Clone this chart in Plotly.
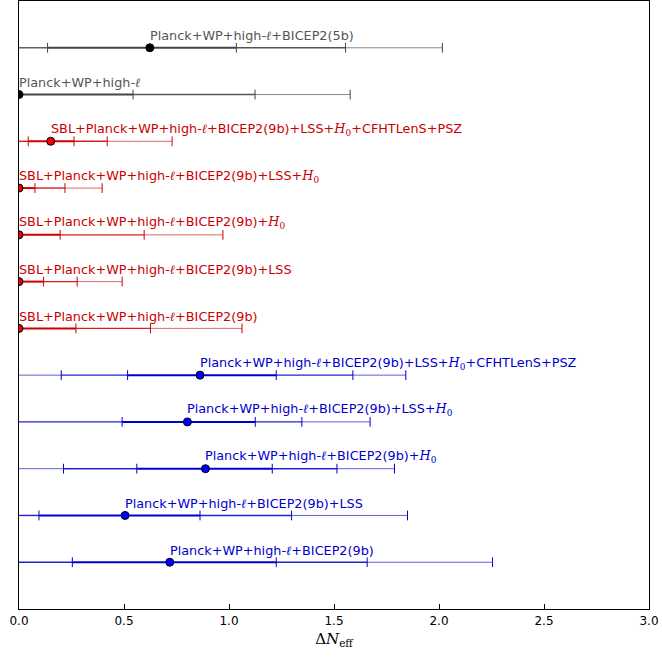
import plotly.graph_objects as go

H0 = '<span style="font-family:\'DejaVu Serif\'"><i>H</i><sub>0</sub></span>'
ELL = '<span style="font-family:\'DejaVu Serif\'"><i>ℓ</i></span>'
labels = [
    "Planck+WP+high-" + ELL + "+BICEP2(9b)",
    "Planck+WP+high-" + ELL + "+BICEP2(9b)+LSS",
    "Planck+WP+high-" + ELL + "+BICEP2(9b)+" + H0,
    "Planck+WP+high-" + ELL + "+BICEP2(9b)+LSS+" + H0,
    "Planck+WP+high-" + ELL + "+BICEP2(9b)+LSS+" + H0 + "+CFHTLenS+PSZ",
    "SBL+Planck+WP+high-" + ELL + "+BICEP2(9b)",
    "SBL+Planck+WP+high-" + ELL + "+BICEP2(9b)+LSS",
    "SBL+Planck+WP+high-" + ELL + "+BICEP2(9b)+" + H0,
    "SBL+Planck+WP+high-" + ELL + "+BICEP2(9b)+LSS+" + H0,
    "SBL+Planck+WP+high-" + ELL + "+BICEP2(9b)+LSS+" + H0 + "+CFHTLenS+PSZ",
    "Planck+WP+high-" + ELL,
    "Planck+WP+high-" + ELL + "+BICEP2(5b)",
]
groups = ["blue"] * 5 + ["red"] * 5 + ["gray"] * 2

best = [0.718, 0.505, 0.888, 0.802, 0.862, 0.0, 0.0, 0.0, 0.0, 0.151, 0.0, 0.623]
lo1 = [0.254, 0.095, 0.561, 0.491, 0.517, 0.0, 0.0, 0.0, 0.0, 0.044, 0.0, 0.136]
hi1 = [1.225, 0.862, 1.206, 1.125, 1.225, 0.271, 0.117, 0.196, 0.076, 0.262, 0.543, 1.035]
lo2 = [0.0, 0.0, 0.212, 0.0, 0.201, 0.0, 0.0, 0.0, 0.0, 0.0, 0.0, 0.0]
hi2 = [1.658, 1.298, 1.514, 1.347, 1.590, 0.626, 0.277, 0.596, 0.219, 0.420, 1.124, 1.555]
lo3 = [0.0] * 12
hi3 = [2.255, 1.850, 1.788, 1.672, 1.842, 1.062, 0.491, 0.971, 0.396, 0.729, 1.577, 2.016]

styles = {
    "blue": dict(c1="#0000cc", c2="#2222d0", c3="#6060dc", mk="#0000ff", txt="#0000cc"),
    "red": dict(c1="#cc0000", c2="#d42020", c3="#e06a6a", mk="#ee0000", txt="#cc0000"),
    "gray": dict(c1="#444444", c2="#555555", c3="#8a8a8a", mk="#000000", txt="#555555"),
}

fig = go.Figure()
ann = []
for i in range(12):
    y = i + 1
    s = styles[groups[i]]
    segs = [
        (lo3[i], lo2[i], s["c3"], 1.0),
        (lo2[i], lo1[i], s["c2"], 1.4),
        (lo1[i], hi1[i], s["c1"], 2.0),
        (hi1[i], hi2[i], s["c2"], 1.4),
        (hi2[i], hi3[i], s["c3"], 1.0),
    ]
    for a, b, col, w in segs:
        if b > a:
            fig.add_trace(go.Scatter(x=[a, b], y=[y, y], mode="lines",
                                     line=dict(color=col, width=w),
                                     hoverinfo="skip", showlegend=False))
    tx = [v for v in (lo2[i], lo1[i], hi1[i], hi2[i], hi3[i]) if v > 0]
    fig.add_trace(go.Scatter(x=tx, y=[y] * len(tx), mode="markers",
                             marker=dict(symbol="line-ns", size=7,
                                         line=dict(color=s["c1"], width=1)),
                             hoverinfo="skip", showlegend=False))
    fig.add_trace(go.Scatter(x=[best[i]], y=[y], mode="markers",
                             marker=dict(symbol="circle", size=8, color=s["mk"],
                                         line=dict(color="black", width=1)),
                             showlegend=False))
    ann.append(dict(x=best[i], y=y, xref="x", yref="y", text=labels[i],
                    showarrow=False, xanchor="left", yanchor="middle",
                    yshift=12, xshift=-2,
                    font=dict(family="DejaVu Sans", size=12.8, color=s["txt"])))

fig.update_layout(
    width=662, height=657,
    margin=dict(l=19, r=13, t=1, b=48, autoexpand=False),
    plot_bgcolor="white", paper_bgcolor="white",
    annotations=ann,
    xaxis=dict(range=[0, 3], tickvals=[0, 0.5, 1, 1.5, 2, 2.5, 3],
               ticktext=["0.0", "0.5", "1.0", "1.5", "2.0", "2.5", "3.0"],
               ticks="inside", ticklen=5, tickcolor="black",
               showline=True, linecolor="black", linewidth=1.2, mirror=True,
               showgrid=False, zeroline=False, automargin=False,
               tickfont=dict(family="DejaVu Sans", size=12, color="black"),
               title=dict(text="Δ<i>N</i><sub>eff</sub>",
                          font=dict(family="DejaVu Serif", size=15, color="black"),
                          standoff=6)),
    yaxis=dict(range=[0, 13], showticklabels=False, ticks="",
               showline=True, linecolor="black", linewidth=1.2, mirror=True,
               showgrid=False, zeroline=False, automargin=False),
)
fig.write_html("out.html", config={"displayModeBar": False},
               post_script="document.body.style.margin='0';document.body.style.overflow='hidden';")
